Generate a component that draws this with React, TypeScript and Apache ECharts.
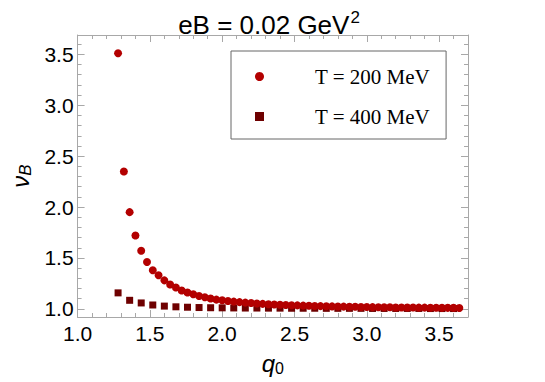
import React, { useEffect, useRef } from "react";
import * as echarts from "echarts";

// q0 values and nu_B for T = 200 MeV (circles)
const q0T200: number[] = [
  1.28, 1.32, 1.36, 1.40, 1.44, 1.48, 1.52, 1.56, 1.60, 1.64,
  1.68, 1.72, 1.76, 1.80, 1.84, 1.88, 1.92, 1.96, 2.00, 2.04,
  2.08, 2.12, 2.16, 2.20, 2.24, 2.28, 2.32, 2.36, 2.40, 2.44,
  2.48, 2.52, 2.56, 2.60, 2.64, 2.68, 2.72, 2.76, 2.80, 2.84,
  2.88, 2.92, 2.96, 3.00, 3.04, 3.08, 3.12, 3.16, 3.20, 3.24,
  3.28, 3.32, 3.36, 3.40, 3.44, 3.48, 3.52, 3.56, 3.60, 3.64,
];
const nuT200: number[] = [
  3.51, 2.35, 1.95, 1.72, 1.57, 1.46, 1.38, 1.33, 1.28, 1.24,
  1.21, 1.18, 1.16, 1.143, 1.127, 1.114, 1.101, 1.091, 1.084, 1.077,
  1.071, 1.066, 1.061, 1.057, 1.053, 1.049, 1.046, 1.043, 1.040, 1.038,
  1.036, 1.034, 1.032, 1.030, 1.028, 1.027, 1.025, 1.024, 1.023, 1.022,
  1.021, 1.020, 1.019, 1.018, 1.017, 1.016, 1.016, 1.015, 1.014, 1.014,
  1.013, 1.013, 1.012, 1.012, 1.011, 1.011, 1.010, 1.010, 1.010, 1.009,
];

// q0 values and nu_B for T = 400 MeV (squares)
const q0T400: number[] = [
  1.28, 1.36, 1.44, 1.52, 1.60, 1.68, 1.76, 1.84, 1.92, 2.00,
  2.08, 2.16, 2.24, 2.32, 2.40, 2.48, 2.56, 2.64, 2.72, 2.80,
  2.88, 2.96, 3.04, 3.12, 3.20, 3.28, 3.36, 3.44, 3.52, 3.60,
];
const nuT400: number[] = [
  1.157, 1.084, 1.058, 1.038, 1.027, 1.020, 1.016, 1.013, 1.011, 1.010,
  1.009, 1.008, 1.008, 1.007, 1.007, 1.006, 1.006, 1.006, 1.005, 1.005,
  1.005, 1.005, 1.004, 1.004, 1.004, 1.004, 1.004, 1.003, 1.003, 1.003,
];

const seriesNames: string[] = ["T = 200 MeV", "T = 400 MeV"];
const titleMain = "eB = 0.02 GeV";
const titleSup = "2";

const SANS = '"Liberation Sans", Arial, Helvetica, sans-serif';
const SERIF = '"Liberation Serif", "Times New Roman", serif';

const zip = (xs: number[], ys: number[]) => xs.map((x, i) => [x, ys[i]]);

export default function App() {
  const ref = useRef<HTMLDivElement>(null);
  useEffect(() => {
    if (!ref.current) return;
    const chart = echarts.init(ref.current, undefined, { renderer: "svg" });
    const frameColor = "#a8a8a8";
    const tickColor = "#a8a8a8";
    const baseAxis = {
      type: "value" as const,
      splitLine: { show: false },
      axisLine: { show: true, onZero: false, lineStyle: { color: frameColor, width: 1 } },
      axisTick: { show: true, inside: true, length: 7, lineStyle: { color: tickColor, width: 1 } },
      minorTick: { show: true, splitNumber: 5, length: 4, lineStyle: { color: tickColor, width: 1 } },
    };
    chart.setOption({
      animation: false,
      backgroundColor: "#ffffff",
      title: {
        text: `{m|${titleMain}}{s|${titleSup}}`,
        left: 264,
        textAlign: "center",
        top: 4,
        textStyle: {
          fontWeight: "normal",
          rich: {
            m: { fontFamily: SANS, fontSize: 26, fontWeight: "normal", color: "#000", verticalAlign: "bottom" },
            s: { fontFamily: SANS, fontSize: 17, fontWeight: "normal", color: "#000", verticalAlign: "top", padding: [0, 0, 12, 1] },
          },
        },
      },
      grid: { left: 60, right: 77, top: 35, bottom: 65, containLabel: false },
      legend: {
        orient: "vertical",
        left: 231,
        top: 51,
        padding: [15, 16, 12, 24],
        itemGap: 19,
        itemWidth: 9,
        itemHeight: 9,
        borderColor: "#666",
        borderWidth: 1,
        backgroundColor: "#fff",
        data: [
          { name: seriesNames[0], icon: "circle" },
          { name: seriesNames[1], icon: "rect" },
        ],
        textStyle: { fontFamily: SERIF, fontSize: 21, color: "#000", padding: [0, 0, 0, 46] },
      },
      xAxis: [
        {
          ...baseAxis,
          min: 1.0,
          max: 3.7,
          position: "bottom",
          name: "{q|q}{s|0}",
          nameLocation: "middle",
          nameGap: 33,
          nameTextStyle: {
            rich: {
              q: { fontFamily: SANS, fontSize: 24, fontStyle: "italic", color: "#000" },
              s: { fontFamily: SANS, fontSize: 16, color: "#000", padding: [10, 0, 0, 0] },
            },
          },
          axisLabel: {
            fontFamily: SANS,
            fontSize: 21,
            color: "#000",
            margin: 6,
            showMaxLabel: false,
            formatter: (v: number) => v.toFixed(1),
          },
        },
        {
          ...baseAxis,
          min: 1.0,
          max: 3.7,
          position: "top",
          axisLabel: { show: false },
        },
      ],
      yAxis: [
        {
          ...baseAxis,
          min: 0.92,
          max: 3.69,
          position: "left",
          name: "{n|ν}{b|B}",
          nameLocation: "middle",
          nameRotate: 90,
          nameGap: 33,
          nameTextStyle: {
            rich: {
              n: { fontFamily: SANS, fontSize: 24, fontStyle: "italic", color: "#000" },
              b: { fontFamily: SANS, fontSize: 17, fontStyle: "italic", color: "#000", padding: [10, 0, 0, 0] },
            },
          },
          axisLabel: {
            fontFamily: SANS,
            fontSize: 21,
            color: "#000",
            margin: 4,
            showMinLabel: false,
            showMaxLabel: false,
            formatter: (v: number) => v.toFixed(1),
          },
        },
        {
          ...baseAxis,
          min: 0.92,
          max: 3.69,
          position: "right",
          axisLabel: { show: false },
        },
      ],
      series: [
        {
          name: seriesNames[0],
          type: "scatter",
          symbol: "circle",
          symbolSize: 8,
          itemStyle: { color: "#b30000", opacity: 1 },
          data: zip(q0T200, nuT200),
          z: 3,
        },
        {
          name: seriesNames[1],
          type: "scatter",
          symbol: "rect",
          symbolSize: 7,
          itemStyle: { color: "#6e0000", opacity: 1 },
          data: zip(q0T400, nuT400),
          z: 2,
        },
      ],
    });
    return () => chart.dispose();
  }, []);
  return (
    <div
      ref={ref}
      style={{ position: "fixed", left: 0, top: 0, width: 545, height: 382, background: "#fff" }}
    />
  );
}
